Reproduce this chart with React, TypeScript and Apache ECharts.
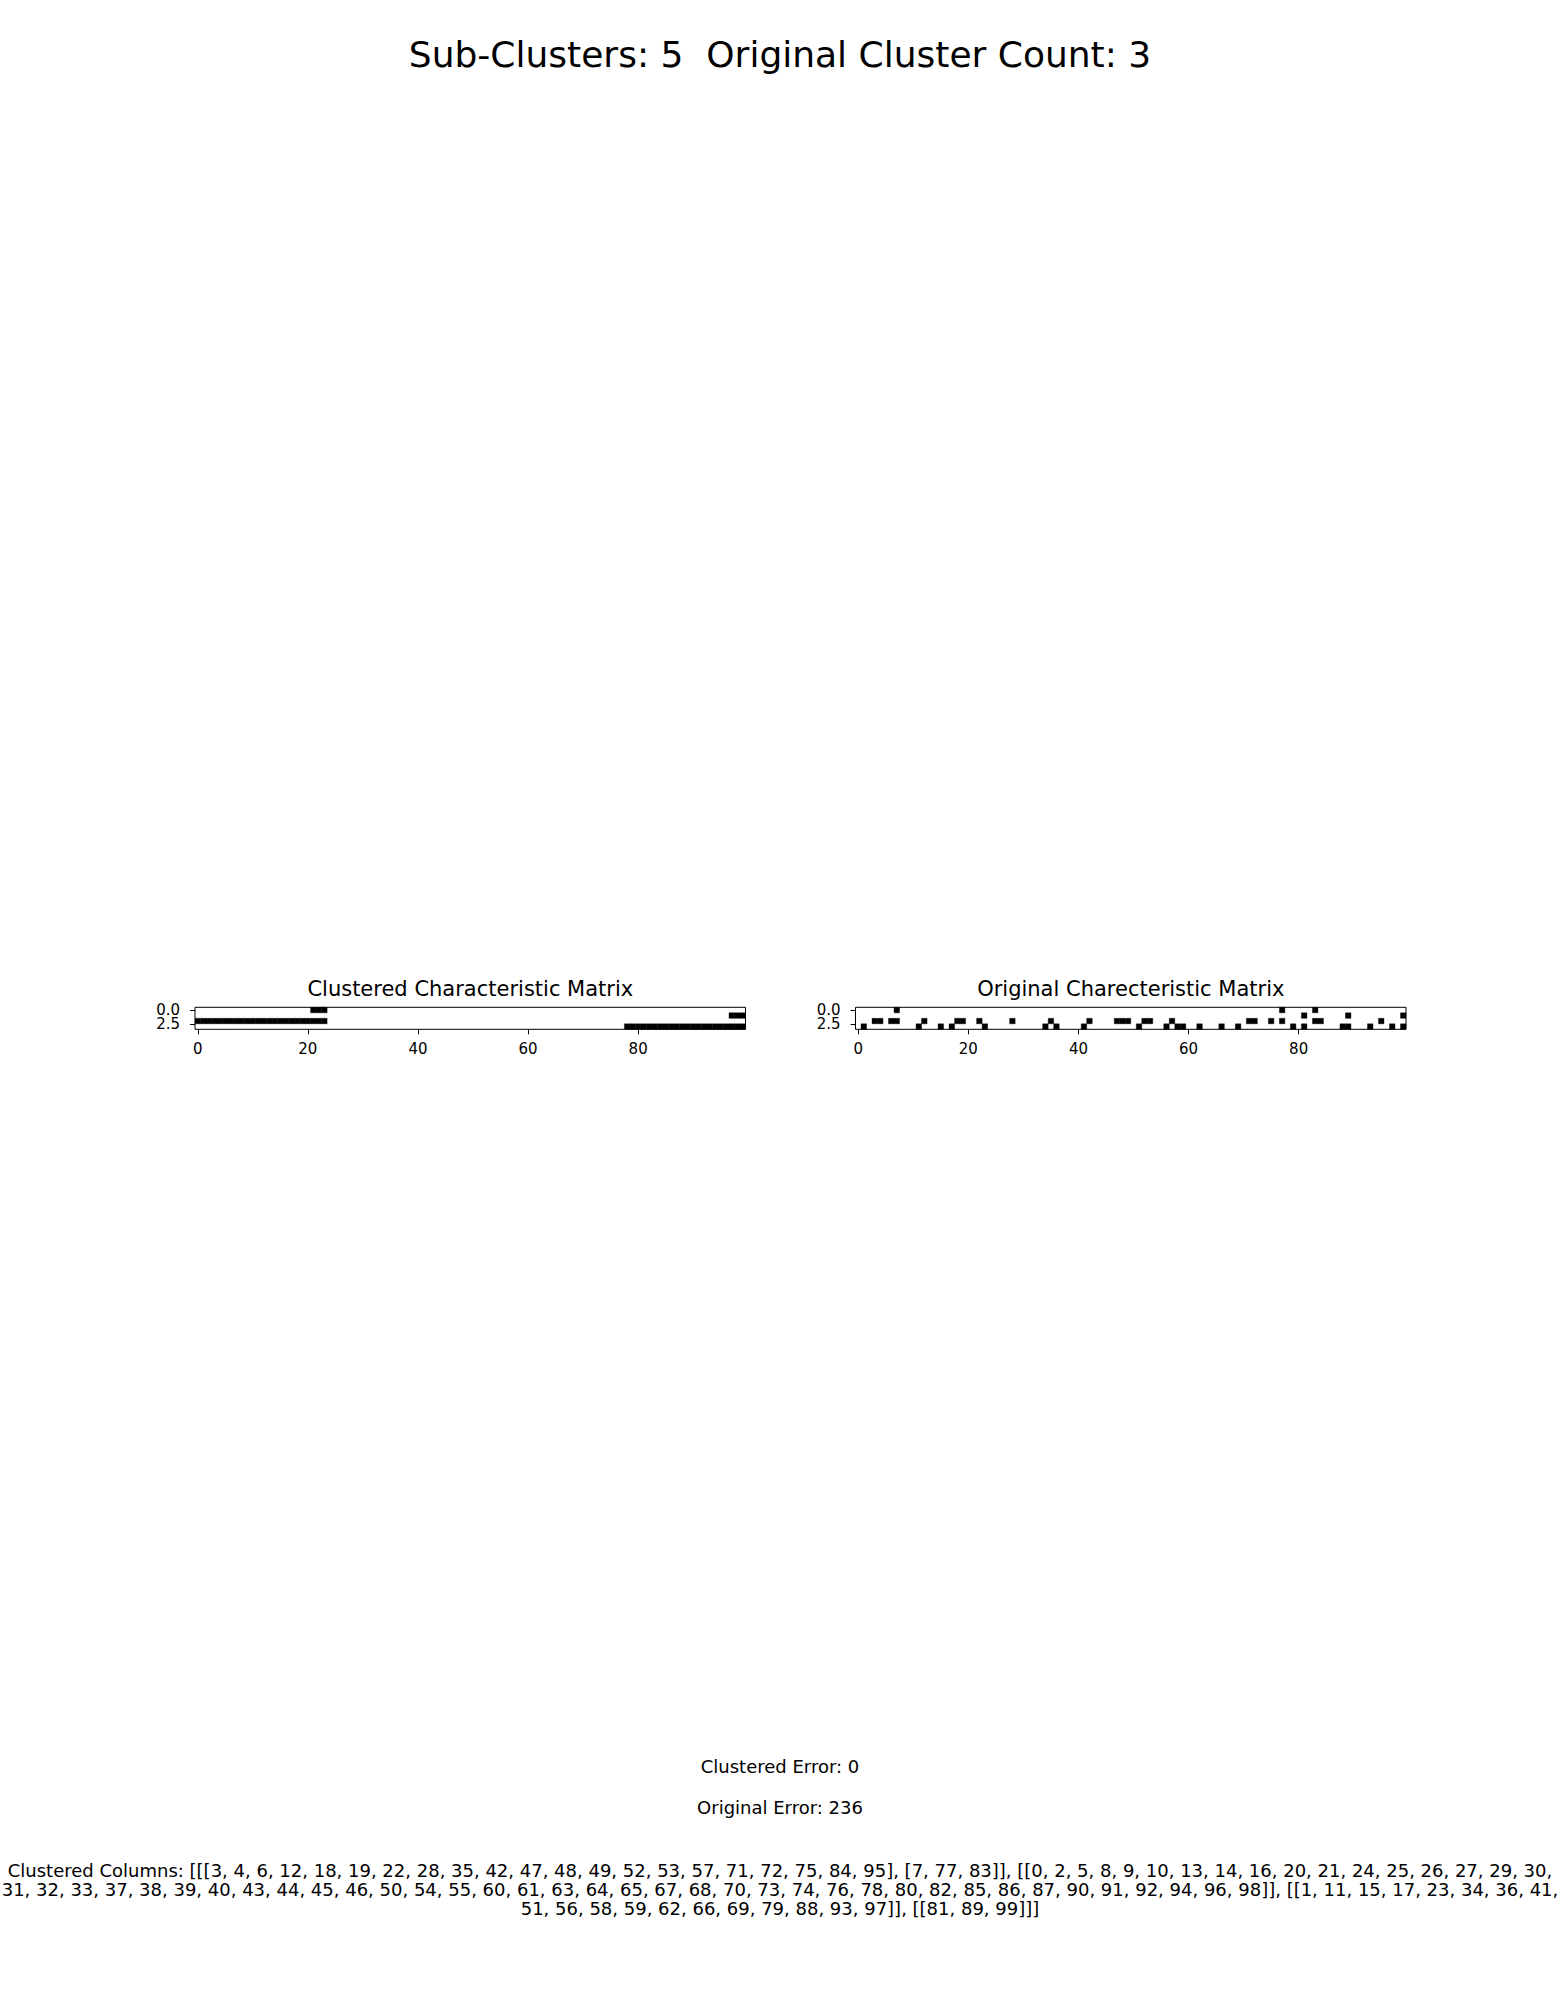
import React, { useEffect, useRef } from "react";
import * as echarts from "echarts";

// ---- Data ----
const FONT = "DejaVu Sans";
const mainTitle = "Sub-Clusters: 5  Original Cluster Count: 3";
const leftTitle = "Clustered Characteristic Matrix";
const rightTitle = "Original Charecteristic Matrix";
const clusteredErrorText = "Clustered Error: 0";
const originalErrorText = "Original Error: 236";

const nCols = 100;
const nRows = 4;
const xTicks = [0, 20, 40, 60, 80];
const yTicks = [0, 2.5];

// Sub-cluster column lists (from the "Clustered Columns" text)
const clusterA1 = [3, 4, 6, 12, 18, 19, 22, 28, 35, 42, 47, 48, 49, 52, 53, 57, 71, 72, 75, 84, 95];
const clusterA2 = [7, 77, 83];
const clusterB = [0, 2, 5, 8, 9, 10, 13, 14, 16, 20, 21, 24, 25, 26, 27, 29, 30, 31, 32, 33, 37, 38, 39, 40, 43, 44, 45, 46, 50, 54, 55, 60, 61, 63, 64, 65, 67, 68, 70, 73, 74, 76, 78, 80, 82, 85, 86, 87, 90, 91, 92, 94, 96, 98];
const clusterC = [1, 11, 15, 17, 23, 34, 36, 41, 51, 56, 58, 59, 62, 66, 69, 79, 88, 93, 97];
const clusterD = [81, 89, 99];

// Black cells of the original matrix, per row (columns)
const originalRow0 = [7, 77, 83];
const originalRow1 = [81, 89, 99];
const originalRow2 = [3, 4, 6, 7, 12, 18, 19, 22, 28, 35, 42, 47, 48, 49, 52, 53, 57, 71, 72, 75, 77, 83, 84, 95];
const originalRow3 = [1, 11, 15, 17, 23, 34, 36, 41, 51, 56, 58, 59, 62, 66, 69, 79, 81, 88, 89, 93, 97, 99];

export default function App() {
  const ref = useRef<HTMLDivElement>(null);

  useEffect(() => {
    if (!ref.current) return;
    const chart = echarts.init(ref.current, undefined, { renderer: "svg" });

    const originalRows = [originalRow0, originalRow1, originalRow2, originalRow3];
    const groups = [[clusterA1, clusterA2], [clusterB], [clusterC], [clusterD]];
    const order: number[] = [];
    groups.forEach((g) => g.forEach((a) => a.forEach((c) => order.push(c))));

    const originalCells: number[][] = [];
    originalRows.forEach((cols, r) => cols.forEach((c) => originalCells.push([c, r])));
    const clusteredCells: number[][] = [];
    for (let r = 0; r < nRows; r++) {
      order.forEach((c, newCol) => {
        if (originalRows[r].includes(c)) clusteredCells.push([newCol, r]);
      });
    }

    const fmt =
      "[" +
      groups
        .map((g) => "[" + g.map((a) => "[" + a.join(", ") + "]").join(", ") + "]")
        .join(", ") +
      "]";
    const full = "Clustered Columns: " + fmt;
    const i1 = full.indexOf(" 31, 32");
    const line1 = full.slice(0, i1);
    const rest = full.slice(i1 + 1);
    const i2 = rest.indexOf(" 51, 56");
    const line2 = rest.slice(0, i2);
    const line3 = rest.slice(i2 + 1);

    const renderCell = (params: any, api: any) => {
      const c = api.value(0);
      const r = api.value(1);
      const p1 = api.coord([c - 0.5, r - 0.5]);
      const p2 = api.coord([c + 0.5, r + 0.5]);
      return {
        type: "rect",
        shape: {
          x: Math.min(p1[0], p2[0]),
          y: Math.min(p1[1], p2[1]),
          width: Math.abs(p2[0] - p1[0]),
          height: Math.abs(p2[1] - p1[1]),
        },
        style: { fill: "#000", stroke: "#000", lineWidth: 0.4 },
      };
    };

    const lefts = [195, 855.5];
    const gridBase = { top: 1007.3, height: 22, width: 550.5 };
    const tickStyle = { color: "#000", width: 1 };

    // Grids 0,1: data + frame + x axis. Grids 2,3: overlay carrying the y ticks.
    const xAxes = [0, 1, 2, 3].map((i) => ({
      type: "value",
      gridIndex: i,
      position: "bottom",
      show: i < 2,
      min: -0.5,
      max: nCols - 0.5,
      axisLine: { show: false, onZero: false },
      splitLine: { show: false },
      axisTick: {
        show: true,
        inside: false,
        length: 5,
        lineStyle: tickStyle,
        customValues: xTicks,
      },
      axisLabel: {
        customValues: xTicks,
        fontSize: 15,
        fontFamily: FONT,
        color: "#000",
        margin: 12,
        showMinLabel: true,
        showMaxLabel: true,
      },
    }));

    const yAxisOf = (gridIndex: number, show: boolean, values: number[]) => ({
      type: "value",
      gridIndex,
      position: "left",
      offset: 0,
      show,
      inverse: true,
      min: -0.5,
      max: nRows - 0.5,
      axisLine: { show: false, onZero: false },
      splitLine: { show: false },
      axisTick: {
        show: true,
        inside: false,
        length: 5,
        lineStyle: tickStyle,
        customValues: values,
      },
      axisLabel: {
        customValues: values,
        fontSize: 15,
        lineHeight: 12,
        fontFamily: FONT,
        color: "#000",
        margin: 15,
        showMinLabel: true,
        showMaxLabel: true,
        formatter: (v: number) => v.toFixed(1),
      },
    });

    // one y axis per tick label so that none of them is culled
    const yAxes = [
      yAxisOf(0, false, yTicks),
      yAxisOf(1, false, yTicks),
      yAxisOf(2, true, [yTicks[0]]),
      yAxisOf(3, true, [yTicks[0]]),
      yAxisOf(2, true, [yTicks[1]]),
      yAxisOf(3, true, [yTicks[1]]),
    ];

    const txt = (text: string, x: number, y: number, size: number) => ({
      type: "text",
      x,
      y,
      style: {
        text,
        fontSize: size,
        fontFamily: FONT,
        fill: "#000",
        align: "center",
        verticalAlign: "middle",
      },
    });

    chart.setOption({
      animation: false,
      backgroundColor: "#fff",
      textStyle: { fontFamily: FONT },
      grid: [
        { ...gridBase, left: lefts[0], show: true, borderColor: "#000", borderWidth: 1, backgroundColor: "#fff" },
        { ...gridBase, left: lefts[1], show: true, borderColor: "#000", borderWidth: 1, backgroundColor: "#fff" },
        { ...gridBase, left: lefts[0], show: false },
        { ...gridBase, left: lefts[1], show: false },
      ],
      xAxis: xAxes,
      yAxis: yAxes,
      series: [
        {
          type: "custom",
          xAxisIndex: 0,
          yAxisIndex: 0,
          data: clusteredCells,
          renderItem: renderCell,
          encode: { x: 0, y: 1 },
        },
        {
          type: "custom",
          xAxisIndex: 1,
          yAxisIndex: 1,
          data: originalCells,
          renderItem: renderCell,
          encode: { x: 0, y: 1 },
        },
      ],
      graphic: [
        txt(mainTitle, 780, 54.2, 36),
        txt(leftTitle, 470.3, 988.8, 21),
        txt(rightTitle, 1130.8, 988.8, 21),
        txt(clusteredErrorText, 780, 1766, 18),
        txt(originalErrorText, 780, 1807.5, 18),
        txt(line1, 780, 1870.8, 18),
        txt(line2, 780, 1889.5, 18),
        txt(line3, 780, 1908.2, 18),
      ],
    });

    return () => chart.dispose();
  }, []);

  return (
    <div
      ref={ref}
      style={{ position: "absolute", left: 0, top: 0, width: 1560, height: 2015 }}
    />
  );
}
